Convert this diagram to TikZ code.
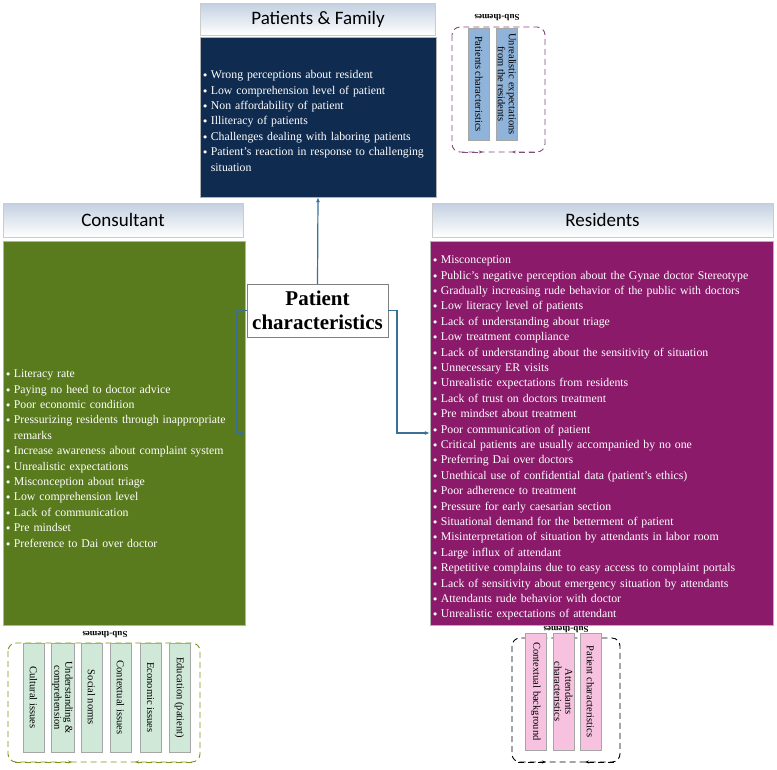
\documentclass[tikz,border=0pt]{standalone}
\usepackage{fontspec}
\setmainfont{Liberation Serif}
\newfontfamily\headfont{Carlito}
\usetikzlibrary{arrows.meta}
\usetikzlibrary{positioning}
\definecolor{navy}{HTML}{0F2B4F}
\definecolor{olive}{HTML}{5A7A1E}
\definecolor{plum}{HTML}{8B1A6B}
\definecolor{headgray}{HTML}{C3D0E0}
\definecolor{linkblue}{HTML}{3A6F96}
\definecolor{barblue}{HTML}{8FB3D9}
\definecolor{bargreen}{HTML}{CFE8D8}
\definecolor{barpink}{HTML}{F6C2E0}
\newcommand\bul{\par\hyphenpenalty=10000\hangindent=0.65em\hangafter=1\noindent\makebox[0.65em][l]{\raisebox{0.15ex}{\scalebox{0.7}{$\bullet$}}}}
\tikzset{
	header/.style={draw=gray!40, top color=headgray, bottom color=white, shading angle=0,
		font=\headfont\fontsize{19}{20}\selectfont, inner sep=0pt},
	body/.style={draw=gray!60, inner sep=0pt},
	items/.style={anchor=north west, inner sep=0pt, text=white, align=left,
		font=\fontsize{11.8}{15.4}\selectfont},
	link/.style={draw=linkblue, line width=1.2pt, -{Latex[length=5pt,width=4pt]}},
	bar/.style={rotate=-90, draw=gray!70, inner sep=1pt, align=center,
		font=\fontsize{10.5}{11}\selectfont},
	group/.style={draw, dashed, rounded corners=8pt, line width=0.9pt, dash pattern=on 6pt off 4pt},
	subtitle/.style={rotate=180, font=\bfseries\fontsize{9}{10}\selectfont, inner sep=0pt},
	flow/.style={dashed, line width=0.9pt, dash pattern=on 6pt off 4pt, -{Stealth[length=4pt]}}
}
\begin{document}
\begin{tikzpicture}[x=1pt, y=-1pt]
	\useasboundingbox (0,0) rectangle (777,769);

	% main boxes
	\node[header, minimum width=235, minimum height=32] (pfh) at (318,19) {Patients \& Family};
	\node[body, fill=navy, minimum width=236, minimum height=160] (pf) at (318,117) {};
	\node[items, text width=225] (pft) at (203,63) {%
		\bul Wrong perceptions about resident
		\bul Low comprehension level of patient
		\bul Non affordability of patient
		\bul Illiteracy of patients
		\bul Challenges dealing with laboring patients
		\bul Patient's reaction in response to challenging situation\par};

	\node[header, minimum width=240, minimum height=34] (conh) at (123,220) {Consultant};
	\node[body, fill=olive, minimum width=242, minimum height=384] (con) at (124,433) {};
	\node[items, text width=228] (cont) at (6,362) {%
		\bul Literacy rate
		\bul Paying no heed to doctor advice
		\bul Poor economic condition
		\bul Pressurizing residents through inappropriate remarks
		\bul Increase awareness about complaint system
		\bul Unrealistic expectations
		\bul Misconception about triage
		\bul Low comprehension level
		\bul Lack of communication
		\bul Pre mindset
		\bul Preference to Dai over doctor\par};

	\node[header, minimum width=341, minimum height=34] (resh) at (602.5,220) {Residents};
	\node[body, fill=plum, minimum width=343, minimum height=384] (res) at (601.5,433) {};
	\node[items, text width=335] (rest) at (433,248) {%
		\bul Misconception
		\bul Public's negative perception about the Gynae doctor Stereotype
		\bul Gradually increasing rude behavior of the public with doctors
		\bul Low literacy level of patients
		\bul Lack of understanding about triage
		\bul Low treatment compliance
		\bul Lack of understanding about the sensitivity of situation
		\bul Unnecessary ER visits
		\bul Unrealistic expectations from residents
		\bul Lack of trust on doctors treatment
		\bul Pre mindset about treatment
		\bul Poor communication of patient
		\bul Critical patients are usually accompanied by no one
		\bul Preferring Dai over doctors
		\bul Unethical use of confidential data (patient's ethics)
		\bul Poor adherence to treatment
		\bul Pressure for early caesarian section
		\bul Situational demand for the betterment of patient
		\bul Misinterpretation of situation by attendants in labor room
		\bul Large influx of attendant
		\bul Repetitive complains due to easy access to complaint portals
		\bul Lack of sensitivity about emergency situation by attendants
		\bul Attendants rude behavior with doctor
		\bul Unrealistic expectations of attendant\par};

	% centre
	\node[draw=gray, fill=white, minimum width=141, minimum height=53, align=center,
		font=\bfseries\fontsize{21}{24}\selectfont, inner sep=0pt] (pc) at (317.5,310.5)
		{Patient\\characteristics};
	\coordinate (cl) at (237,433);
	\coordinate (cr) at (397,433);
	\draw[link] (pc.north) -- (pf.south);
	\draw[link] (pc.west) -| (cl) -- (con.east |- cl);
	\draw[link] (pc.east) -| (cr) -- (res.west |- cr);

	% sub-themes, patients & family
	\draw[group, draw=violet!40!gray] (452,27) rectangle (545,152);
	\node[subtitle] (st1) at (497,18) {Sub-themes};
	\node[bar, fill=barblue, minimum width=112, minimum height=21] (b11) at (479,84) {Patients characteristics};
	\node[bar, fill=barblue, minimum width=112, minimum height=21] (b12) at (507,84) {Unrealistic expectations\\from the residents};
	\coordinate (a11) at (462,152); \coordinate (a12) at (483,152);
	\coordinate (a13) at (535,152); \coordinate (a14) at (512,152);
	\draw[flow, draw=violet!40!gray] (a11) -- (a12);
	\draw[flow, draw=violet!40!gray] (a13) -- (a14);

	% sub-themes, consultant
	\draw[group, draw=olive!80!yellow] (8,643) rectangle (200,762);
	\node[subtitle] (st2) at (105,635) {Sub-themes};
	\foreach \x/\t [count=\i] in {33.5/Cultural issues, 62.5/Understanding \&\\comprehension,
		91.5/Social norms, 120.5/Contextual issues, 150.5/Economic issues, 179.5/Education (patient)}
		\node[bar, fill=bargreen, minimum width=109, minimum height=21] (b2\i) at (\x,697.5) {\t};
	\coordinate (a21) at (15,762); \coordinate (a22) at (72,762);
	\coordinate (a23) at (192,762); \coordinate (a24) at (135,762);
	\draw[flow, draw=olive!80!yellow] (a21) -- (a22);
	\draw[flow, draw=olive!80!yellow] (a23) -- (a24);

	% sub-themes, residents
	\draw[group, draw=black] (512,638) rectangle (620,762);
	\node[subtitle] (st3) at (566,630) {Sub-themes};
	\node[bar, fill=barpink, minimum width=117, minimum height=21] (b31) at (536,691.5) {Contextual background};
	\node[bar, fill=barpink, minimum width=117, minimum height=21] (b32) at (563.5,691.5) {Attendants\\characteristics};
	\node[bar, fill=barpink, minimum width=117, minimum height=21] (b33) at (590.5,691.5) {Patient characteristics};
	\coordinate (a31) at (518,762); \coordinate (a32) at (546,762);
	\coordinate (a33) at (614,762); \coordinate (a34) at (585,762);
	\draw[flow] (a31) -- (a32);
	\draw[flow] (a33) -- (a34);
\end{tikzpicture}
\end{document}
